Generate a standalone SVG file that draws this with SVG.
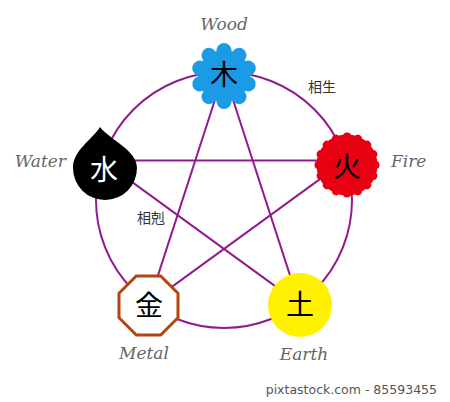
<svg xmlns="http://www.w3.org/2000/svg" width="450" height="402" viewBox="0 0 450 402">
<style>
.edge{fill:none;stroke:#911b8e;stroke-width:2}
.lbl{font-family:"DejaVu Serif",serif;font-style:italic;font-size:17px;fill:#666}
.cjk{font-family:"Noto Sans CJK JP",sans-serif;font-size:28px;text-anchor:middle;dominant-baseline:central}
.note{font-family:"Noto Sans CJK JP",sans-serif;font-size:14px;fill:#333}
</style>
<rect width="450" height="402" fill="#fff"/>
<g id="connectors">
<circle class="edge" cx="224" cy="200" r="128"/>
<path class="edge" d="M224 72 L299.2 303.6 M224 72 L148.8 303.6 M102.3 160.4 L345.7 160.4 M345.7 160.4 L148.8 303.6 M102.3 160.4 L299.2 303.6"/>
</g>
<g id="wood">
<g fill="#1b9be6" transform="translate(224,76)">
<circle r="26"/>
<circle cy="-25.5" r="7.5"/>
<circle cy="-25.5" r="7.5" transform="rotate(36)"/>
<circle cy="-25.5" r="7.5" transform="rotate(72)"/>
<circle cy="-25.5" r="7.5" transform="rotate(108)"/>
<circle cy="-25.5" r="7.5" transform="rotate(144)"/>
<circle cy="-25.5" r="7.5" transform="rotate(180)"/>
<circle cy="-25.5" r="7.5" transform="rotate(216)"/>
<circle cy="-25.5" r="7.5" transform="rotate(252)"/>
<circle cy="-25.5" r="7.5" transform="rotate(288)"/>
<circle cy="-25.5" r="7.5" transform="rotate(324)"/>
</g>
<text class="cjk" x="224" y="73" fill="#000">木</text>
<text class="lbl" x="224" y="30" text-anchor="middle">Wood</text>
</g>
<g id="fire">
<g fill="#e60012" transform="translate(347,165)">
<circle r="30.5"/>
<circle cy="-28.5" r="4"/>
<circle cy="-28.5" r="4" transform="rotate(22.5)"/>
<circle cy="-28.5" r="4" transform="rotate(45)"/>
<circle cy="-28.5" r="4" transform="rotate(67.5)"/>
<circle cy="-28.5" r="4" transform="rotate(90)"/>
<circle cy="-28.5" r="4" transform="rotate(112.5)"/>
<circle cy="-28.5" r="4" transform="rotate(135)"/>
<circle cy="-28.5" r="4" transform="rotate(157.5)"/>
<circle cy="-28.5" r="4" transform="rotate(180)"/>
<circle cy="-28.5" r="4" transform="rotate(202.5)"/>
<circle cy="-28.5" r="4" transform="rotate(225)"/>
<circle cy="-28.5" r="4" transform="rotate(247.5)"/>
<circle cy="-28.5" r="4" transform="rotate(270)"/>
<circle cy="-28.5" r="4" transform="rotate(292.5)"/>
<circle cy="-28.5" r="4" transform="rotate(315)"/>
<circle cy="-28.5" r="4" transform="rotate(337.5)"/>
</g>
<text class="cjk" x="347" y="165" fill="#000">火</text>
<text class="lbl" x="391" y="167">Fire</text>
</g>
<g id="water">
<path fill="#000" d="M100 127 C110 140 137 150 137 168 A32 32 0 1 1 73 168 C73 150 92 140 100 127 Z"/>
<text class="cjk" x="104" y="168" fill="#fff">水</text>
<text class="lbl" x="66" y="167" text-anchor="end">Water</text>
</g>
<g id="metal">
<polygon fill="#fff" stroke="#b5440e" stroke-width="3" points="136.3,276 160.7,276 178,293.3 178,317.7 160.7,335 136.3,335 119,317.7 119,293.3"/>
<text class="cjk" x="149" y="304" fill="#000">金</text>
<text class="lbl" x="144" y="359" text-anchor="middle">Metal</text>
</g>
<g id="earth">
<circle cx="300" cy="305" r="32" fill="#fff100"/>
<text class="cjk" x="300" y="303" fill="#000">土</text>
<text class="lbl" x="304" y="360" text-anchor="middle">Earth</text>
</g>
<text class="note" x="308" y="92">相生</text>
<text class="note" x="137" y="223">相剋</text>
<text x="437" y="394" text-anchor="end" font-family="DejaVu Sans,sans-serif" font-size="12.5" fill="#555">pixtastock.com - 85593455</text>
</svg>
